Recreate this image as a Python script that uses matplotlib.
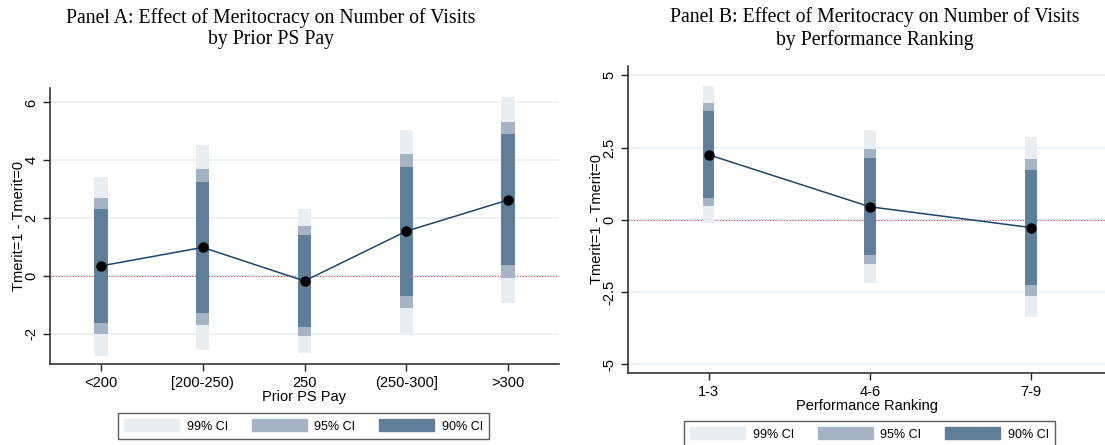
import numpy as np
import matplotlib
matplotlib.use("Agg")
import matplotlib.pyplot as plt
from matplotlib.patches import Patch

plt.rcParams['font.family'] = ['Liberation Sans', 'DejaVu Sans']

# Panel A: by prior PS pay
pay_labels = ["<200", "[200-250)", "250", "(250-300]", ">300"]
pay_est = [0.35, 0.99, -0.17, 1.55, 2.63]
pay_lo90 = [-1.64, -1.27, -1.75, -0.69, 0.38]
pay_hi90 = [2.31, 3.25, 1.41, 3.78, 4.90]
pay_lo95 = [-2.01, -1.70, -2.07, -1.12, -0.06]
pay_hi95 = [2.69, 3.69, 1.72, 4.21, 5.34]
pay_lo99 = [-2.75, -2.55, -2.65, -1.98, -0.92]
pay_hi99 = [3.44, 4.53, 2.32, 5.05, 6.20]

# Panel B: by performance ranking
rank_labels = ["1-3", "4-6", "7-9"]
rank_est = [2.25, 0.45, -0.27]
rank_lo90 = [0.76, -1.22, -2.24]
rank_hi90 = [3.76, 2.14, 1.72]
rank_lo95 = [0.47, -1.54, -2.62]
rank_hi95 = [4.05, 2.46, 2.09]
rank_lo99 = [-0.10, -2.18, -3.37]
rank_hi99 = [4.63, 3.09, 2.85]

c99 = "#e8edf1"
c95 = "#a4b4c4"
c90 = "#5f7e99"
navy = "#1a476f"
grid_c = "#e6eef1"

W, H = 1105, 445
fig = plt.figure(figsize=(W / 100, H / 100), dpi=100)


def px_axes(l, t, r, b):
    return fig.add_axes([l / W, 1 - b / H, (r - l) / W, (b - t) / H])


def panel(ax, labels, est, lo90, hi90, lo95, hi95, lo99, hi99, width):
    x = np.arange(1, len(labels) + 1)
    est, lo90, hi90 = np.array(est), np.array(lo90), np.array(hi90)
    lo95, hi95 = np.array(lo95), np.array(hi95)
    lo99, hi99 = np.array(lo99), np.array(hi99)
    ax.bar(x, hi99 - lo99, bottom=lo99, width=width, color=c99, zorder=2)
    ax.bar(x, hi95 - lo95, bottom=lo95, width=width, color=c95, zorder=3)
    ax.bar(x, hi90 - lo90, bottom=lo90, width=width, color=c90, zorder=4)
    ax.plot(x, est, color=navy, lw=1.1, zorder=5)
    ax.plot(x, est, 'o', color='black', ms=6.5, zorder=6)
    ax.axhline(0, color="#e8484a", lw=0.8, ls=(0, (1, 1.5)), zorder=1)
    ax.set_xticks(x)
    ax.set_xticklabels(labels, fontsize=10.5)
    ax.grid(axis='y', color=grid_c, lw=1.1, zorder=0)
    ax.set_axisbelow(True)
    for s in ['top', 'right']:
        ax.spines[s].set_visible(False)
    for s in ['left', 'bottom']:
        ax.spines[s].set_linewidth(1.1)
        ax.spines[s].set_color('#222222')
    ax.tick_params(axis='both', length=5, width=1, color='#222222', labelsize=10.5)
    ax.set_ylabel("Tmerit=1 - Tmerit=0", fontsize=10.5, labelpad=-1.5)


# Panel A
axA = px_axes(50, 88, 559, 364)
panel(axA, pay_labels, pay_est, pay_lo90, pay_hi90, pay_lo95, pay_hi95,
      pay_lo99, pay_hi99, 0.13)
axA.set_xlim(0.5, 5.5)
axA.set_ylim(-3.04, 6.5)
axA.set_yticks([-2, 0, 2, 4, 6])
axA.set_yticklabels(["-2", "0", "2", "4", "6"], rotation=90, va='center')
axA.set_xlabel("Prior PS Pay", fontsize=10.5, labelpad=0)

# Panel B
axB = px_axes(628, 66, 1105, 373)
panel(axB, rank_labels, rank_est, rank_lo90, rank_hi90, rank_lo95, rank_hi95,
      rank_lo99, rank_hi99, 0.071)
axB.set_xlim(0.5, 3.458)
axB.set_ylim(-5.3, 5.32)
axB.set_yticks([-5, -2.5, 0, 2.5, 5])
axB.set_yticklabels(["-5", "-2.5", "0", "2.5", "5"], rotation=90, va='center')
axB.set_xlabel("Performance Ranking", fontsize=10.5, labelpad=0)

# titles
fig.text(271 / W, 1 - 28.5 / H, "Panel A: Effect of Meritocracy on Number of Visits\nby Prior PS Pay",
         ha='center', va='center', fontsize=14.2, family='Liberation Serif', linespacing=1.2)
fig.text(875 / W, 1 - 28.5 / H, "Panel B: Effect of Meritocracy on Number of Visits\nby Performance Ranking",
         ha='center', va='center', fontsize=14.2, family='Liberation Serif', linespacing=1.2)

handles = [Patch(color=c99, label="99% CI"), Patch(color=c95, label="95% CI"),
           Patch(color=c90, label="90% CI")]

for cx, cy in [(303.5, 426), (869.5, 434)]:
    leg = fig.legend(handles=handles, loc='center', bbox_to_anchor=(cx / W, 1 - cy / H),
                     ncol=3, fontsize=9, frameon=True, fancybox=False,
                     handlelength=4.4, handleheight=1.05, handletextpad=0.64,
                     columnspacing=1.84, borderpad=0.5)
    leg.get_frame().set_edgecolor('#333333')
    leg.get_frame().set_linewidth(1.0)

fig.savefig("out.png", dpi=100)
